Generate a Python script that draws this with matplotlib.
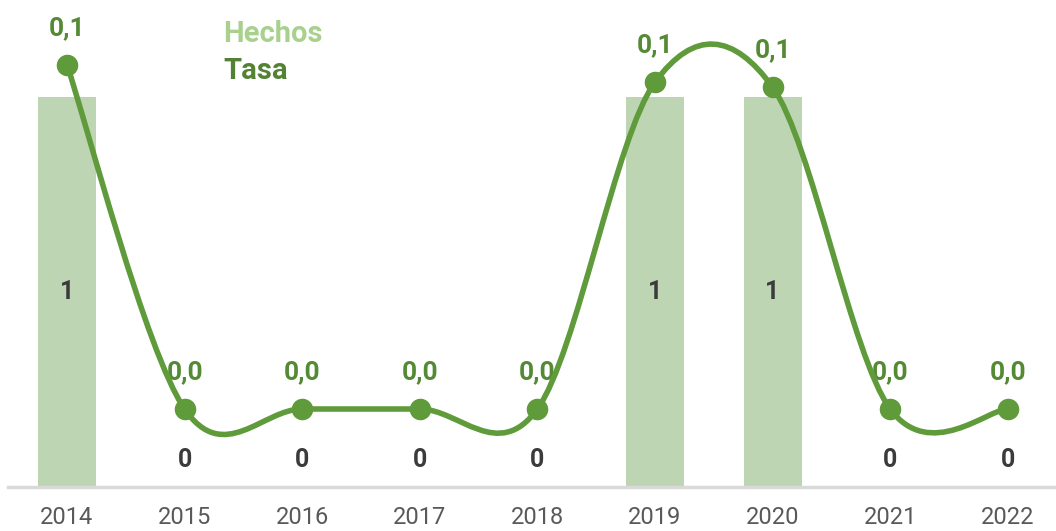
import numpy as np
import matplotlib
matplotlib.use('Agg')
import matplotlib.pyplot as plt
from matplotlib.path import Path
from matplotlib.patches import PathPatch

plt.rcParams['font.family'] = ['Roboto', 'DejaVu Sans']

years = ['2014', '2015', '2016', '2017', '2018', '2019', '2020', '2021', '2022']
hechos = [1, 0, 0, 0, 0, 1, 1, 0, 0]
tasa = [0.14, 0.0, 0.0, 0.0, 0.0, 0.133, 0.131, 0.0, 0.0]

BAR_COLOR = '#bed5b3'
LINE_COLOR = '#5f9b3b'
LABEL_GREEN = '#548a33'
HECHOS_COLOR = '#a9d18e'
TASA_COLOR = '#548235'

W, H = 1056, 531
fig = plt.figure(figsize=(W / 100, H / 100), dpi=100)
ax = fig.add_axes([8 / W, 1 - 487 / H, 1048 / W, 487 / H])
ax2 = ax.twinx()

x = np.arange(len(years))
ax.bar(x, hechos, width=0.493, color=BAR_COLOR, zorder=1)
ax.set_xlim(-0.5017, 8.41)
ax.set_ylim(0, 487 / 390)
for i, v in enumerate(hechos):
    ypos = v / 2 if v > 0 else 0.07
    ax.text(i, ypos, str(v), ha='center', va='center', fontsize=18,
            fontweight='bold', color='#3b3b3b', zorder=3)

# smoothed line (excel style bezier through the points)
ax2.set_ylim(-78 / 2457, 409 / 2457)
pts = np.column_stack([x, tasa]).astype(float)
verts = [pts[0]]
codes = [Path.MOVETO]
n = len(pts)
for i in range(n - 1):
    p0 = pts[i - 1] if i > 0 else pts[i]
    p1 = pts[i]
    p2 = pts[i + 1]
    p3 = pts[i + 2] if i + 2 < n else pts[i + 1]
    c1 = p1 + (p2 - p0) / 6
    c2 = p2 - (p3 - p1) / 6
    verts += [c1, c2, p2]
    codes += [Path.CURVE4] * 3
ax2.add_patch(PathPatch(Path(verts, codes), facecolor='none', edgecolor=LINE_COLOR,
                        lw=4, zorder=4, capstyle='round'))
ax2.plot(x, tasa, 'o', color=LINE_COLOR, markersize=14.5, zorder=5)
for i, v in enumerate(tasa):
    lab = f'{v:.1f}'.replace('.', ',')
    ax2.annotate(lab, (i, v), xytext=(0, 25), textcoords='offset pixels',
                 ha='center', va='bottom', fontsize=19, fontweight='bold',
                 color=LABEL_GREEN, zorder=3)

for a in (ax, ax2):
    for s in ['top', 'right', 'left']:
        a.spines[s].set_visible(False)
    a.set_yticks([])
ax2.spines['bottom'].set_visible(False)
ax.spines['bottom'].set_color('#d9d9d9')
ax.spines['bottom'].set_linewidth(2.5)
ax.set_xticks(x)
ax.set_xticklabels(years, fontsize=17, color='#595959')
ax.tick_params(axis='x', length=0, pad=14)
ax2.tick_params(axis='x', length=0)

fig.text(223 / W, 1 - 34 / H, 'Hechos', fontsize=21, fontweight='bold',
         color=HECHOS_COLOR, va='center', ha='left')
fig.text(223 / W, 1 - 71 / H, 'Tasa', fontsize=21, fontweight='bold',
         color=TASA_COLOR, va='center', ha='left')

fig.savefig('out.png', dpi=100)
